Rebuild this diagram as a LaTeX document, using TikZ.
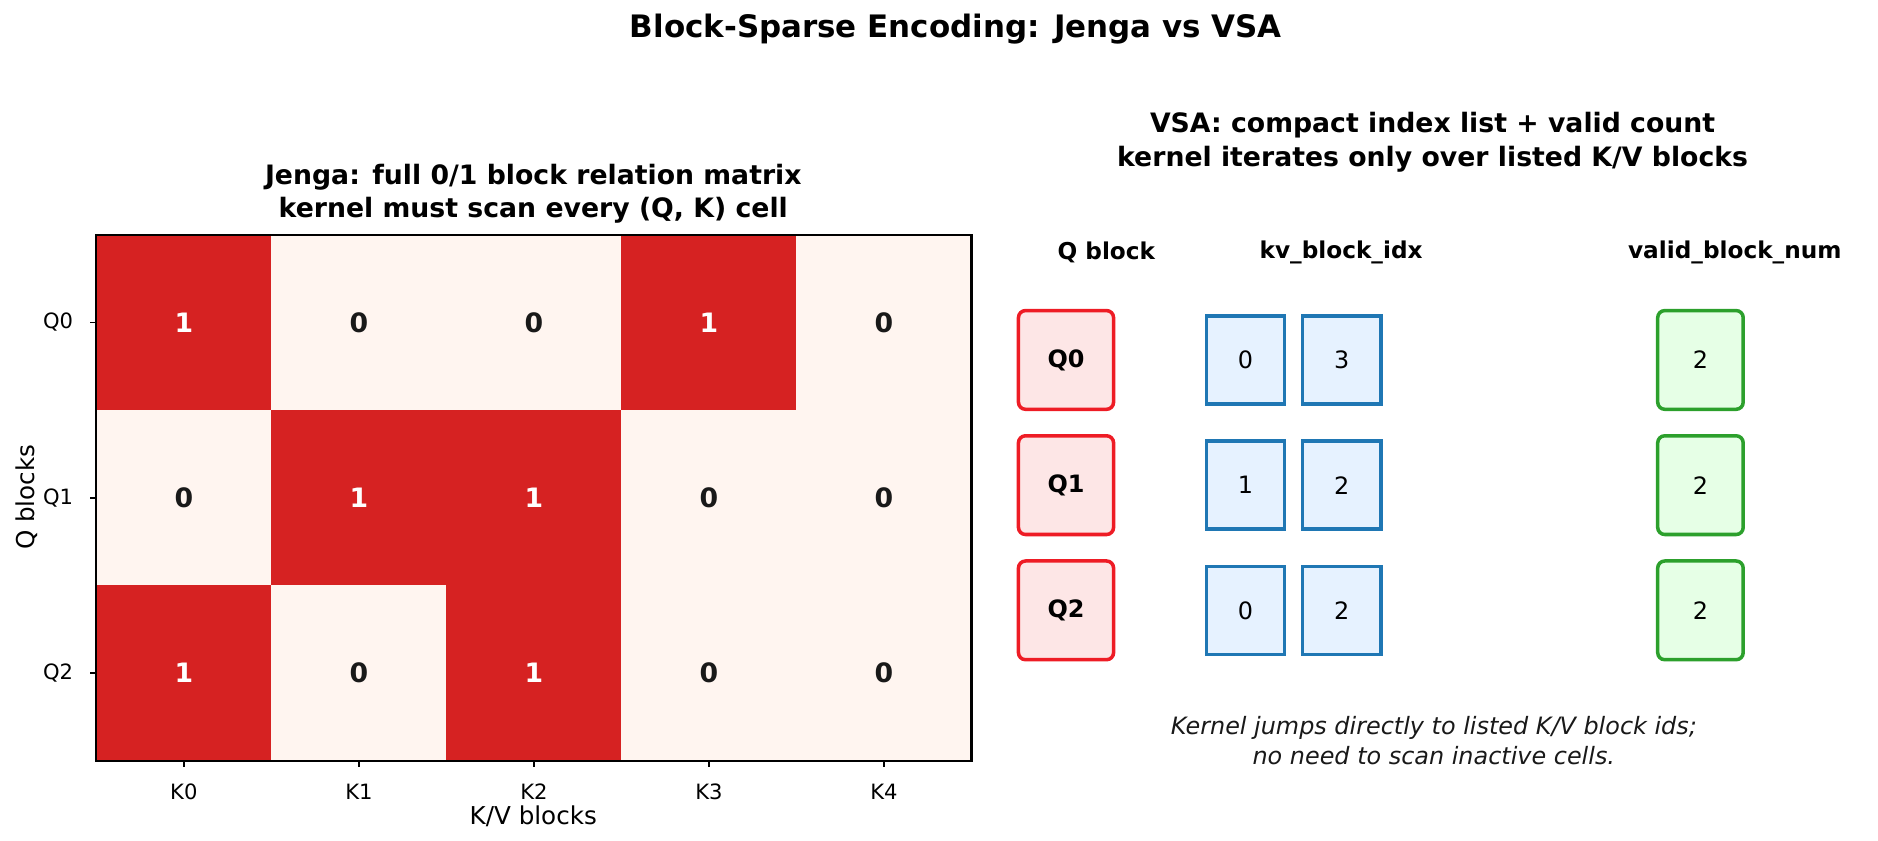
\documentclass[tikz,border=0pt]{standalone}
\usepackage{fontspec}
\setmainfont{DejaVu Sans}
\usetikzlibrary{positioning}
\definecolor{cellon}{HTML}{D62222}
\definecolor{celloff}{HTML}{FFF5F0}
\definecolor{qred}{HTML}{EE1C25}
\definecolor{qfill}{HTML}{FDE6E6}
\definecolor{kvblue}{HTML}{1F77B4}
\definecolor{kvfill}{HTML}{E6F2FF}
\definecolor{vgreen}{HTML}{2CA02C}
\definecolor{vfill}{HTML}{E6FFE6}
\tikzset{
  cell/.style={minimum width=145.4*0.01204cm, minimum height=145.7*0.01204cm, inner sep=0pt, font=\fontsize{7.6}{9}\selectfont\bfseries},
  qbox/.style={draw=qred, fill=qfill, line width=1pt, rounded corners=2pt, minimum width=79*0.01204cm, minimum height=82*0.01204cm, font=\fontsize{6.8}{8}\selectfont\bfseries},
  kvbox/.style={draw=kvblue, fill=kvfill, line width=1pt, minimum width=65*0.01204cm, minimum height=73*0.01204cm, font=\fontsize{6.8}{8}\selectfont},
  vbox/.style={draw=vgreen, fill=vfill, line width=1pt, rounded corners=2pt, minimum width=71*0.01204cm, minimum height=82*0.01204cm, font=\fontsize{6.8}{8}\selectfont},
  head/.style={font=\fontsize{6.6}{8}\selectfont\bfseries},
  ttl/.style={align=center, font=\fontsize{7.6}{9.6}\selectfont\bfseries},
  tick/.style={font=\fontsize{6}{7}\selectfont}
}
\begin{document}
\begin{tikzpicture}[x=0.01204cm, y=-0.01204cm]
  \useasboundingbox (0,0) rectangle (1560,698);
  % titles
  \node [font=\fontsize{8.8}{10}\selectfont\bfseries] (title) at (794,24) {Block-Sparse Encoding: Jenga vs VSA};
  \node [ttl] (jtitle) at (443,161) {Jenga: full 0/1 block relation matrix\\kernel must scan every (Q, K) cell};
  \node [ttl] (vtitle) at (1190,118) {VSA: compact index list + valid count\\kernel iterates only over listed K/V blocks};
  % matrix
  \foreach \r/\row in {0/{1,0,0,1,0}, 1/{0,1,1,0,0}, 2/{1,0,1,0,0}} {
    \foreach \v [count=\c from 0] in \row {
      \ifnum\v=1
        \node [cell, fill=cellon, text=white] (m\r\c) at (152.7+145.4*\c, 267.8+145.7*\r) {\v};
      \else
        \node [cell, fill=celloff, text=black!90] (m\r\c) at (152.7+145.4*\c, 267.8+145.7*\r) {\v};
      \fi
    }
  }
  \draw [line width=0.6pt] (80,195) rectangle (807,632);
  \foreach \c in {0,...,4} {
    \draw [line width=0.5pt] (152.7+145.4*\c,632) -- ++(0,5);
    \node [tick, anchor=north] (k\c) at (152.7+145.4*\c,641) {K\c};
  }
  \foreach \r in {0,1,2} {
    \draw [line width=0.5pt] (80,267.8+145.7*\r) -- ++(-5,0);
    \node [tick, anchor=east] (q\r) at (71,267.8+145.7*\r) {Q\r};
  }
  \node [font=\fontsize{7}{8}\selectfont] (xlab) at (443,678) {K/V blocks};
  \node [font=\fontsize{7}{8}\selectfont, rotate=90] (ylab) at (22,413) {Q blocks};
  % VSA lists
  \node [head] (hq) at (919,210) {Q block};
  \node [head] (hkv) at (1114,210) {kv\_block\_idx};
  \node [head] (hv) at (1441,210) {valid\_block\_num};
  \foreach \r/\a/\b in {0/0/3, 1/1/2, 2/0/2} {
    \node [qbox] (qb\r) at (885.5,299+104*\r) {Q\r};
    \node [kvbox] (kva\r) at (1034.5,299+104*\r) {\a};
    \node [kvbox] (kvb\r) at (1114.5,299+104*\r) {\b};
    \node [vbox] (vn\r) at (1412.5,299+104*\r) {2};
  }
  \node [align=center, font=\fontsize{6.8}{8.4}\selectfont\itshape, text=black!90] (note) at (1191,615) {Kernel jumps directly to listed K/V block ids;\\no need to scan inactive cells.};
\end{tikzpicture}
\end{document}
